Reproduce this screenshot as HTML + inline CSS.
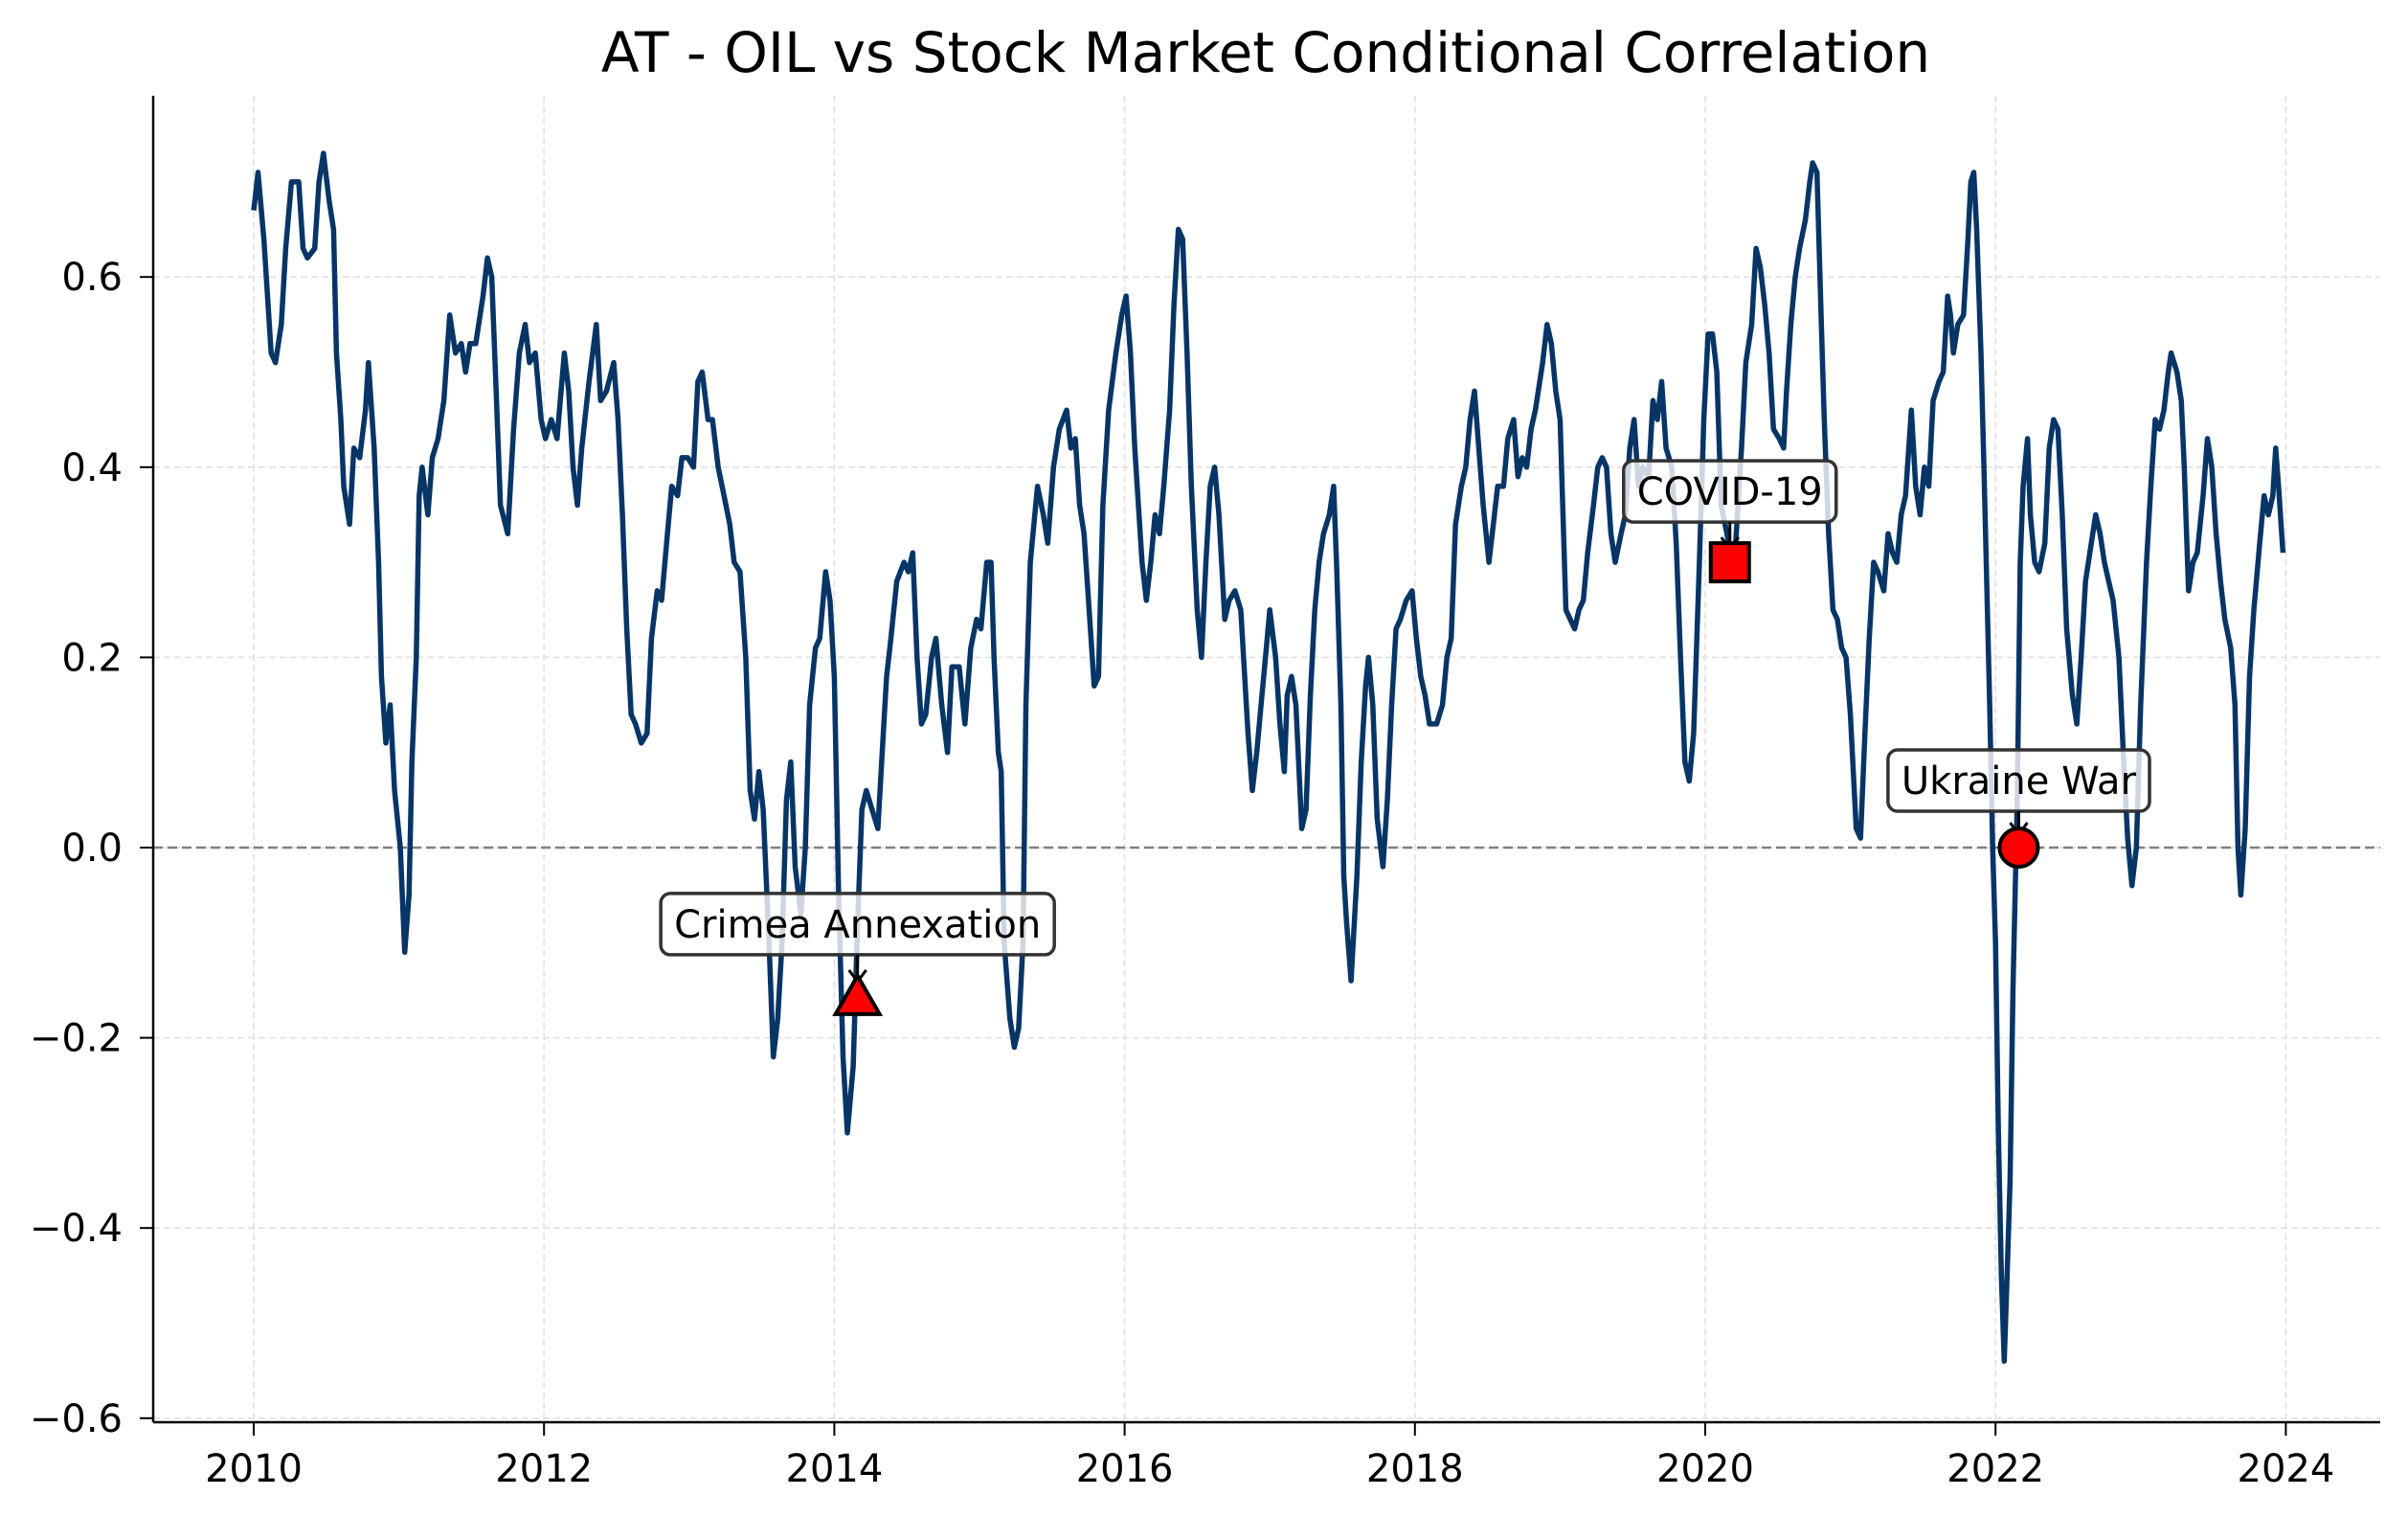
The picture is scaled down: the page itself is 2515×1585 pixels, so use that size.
<!DOCTYPE html>
<html><head><meta charset="utf-8"><style>
html,body{margin:0;padding:0;background:#fff;}
svg{display:block;font-family:"DejaVu Sans","Liberation Sans",sans-serif;}
</style></head><body>
<svg id="chart" width="2515" height="1585" viewBox="0 0 2515 1585" xmlns="http://www.w3.org/2000/svg">
<rect width="2515" height="1585" fill="#fff"/>
<text x="1322" y="75" text-anchor="middle" font-size="58" fill="#000">AT - OIL vs Stock Market Conditional Correlation</text>
<g id="grid"></g>
<g id="zero"></g>
<g id="series"></g>
<g id="axes"></g>
<g id="events"></g>
</svg>
<script>
const xTicks = [2010, 2012, 2014, 2016, 2018, 2020, 2022, 2024];
const yTicks = [-0.6, -0.4, -0.2, 0.0, 0.2, 0.4, 0.6];
const yTickLabels = ["\u22120.6", "\u22120.4", "\u22120.2", "0.0", "0.2", "0.4", "0.6"];
const dates = [2010.00,2010.03,2010.07,2010.12,2010.15,2010.19,2010.22,2010.26,2010.31,2010.34,2010.37,2010.42,2010.45,2010.48,2010.52,2010.55,2010.57,2010.60,2010.62,2010.66,2010.69,2010.73,2010.77,2010.79,2010.83,2010.86,2010.88,2010.91,2010.94,2010.97,
2011.01,2011.04,2011.07,2011.09,2011.12,2011.14,2011.16,2011.20,2011.23,2011.27,2011.31,2011.35,2011.39,2011.43,2011.46,2011.49,2011.53,2011.58,2011.61,2011.64,2011.67,2011.70,2011.75,2011.79,2011.83,2011.87,2011.90,2011.94,2011.98,
2012.01,2012.05,2012.09,2012.14,2012.17,2012.20,2012.23,2012.26,2012.31,2012.36,2012.39,2012.43,2012.48,2012.51,2012.54,2012.57,2012.60,2012.63,2012.67,2012.71,2012.74,2012.78,2012.81,2012.85,2012.88,2012.92,2012.95,2012.99,
2013.03,2013.06,2013.09,2013.13,2013.16,2013.20,2013.24,2013.28,2013.31,2013.35,2013.39,2013.42,2013.45,2013.48,2013.51,2013.55,2013.58,2013.61,2013.64,2013.67,2013.70,2013.73,2013.77,2013.80,2013.83,2013.87,2013.90,2013.94,2013.97,
2014.00,2014.03,2014.06,2014.09,2014.13,2014.16,2014.19,2014.22,2014.26,2014.30,2014.33,2014.36,2014.39,2014.43,2014.48,2014.51,2014.54,2014.57,2014.60,2014.63,2014.67,2014.70,2014.74,2014.78,2014.81,2014.86,2014.90,2014.94,2014.98,
2015.01,2015.05,2015.08,2015.10,2015.13,2015.15,2015.17,2015.21,2015.24,2015.27,2015.30,2015.32,2015.35,2015.40,2015.44,2015.47,2015.51,2015.55,2015.60,2015.63,2015.66,2015.69,2015.72,2015.76,2015.79,2015.82,2015.85,2015.89,2015.94,2015.98,
2016.01,2016.04,2016.07,2016.12,2016.15,2016.18,2016.21,2016.24,2016.27,2016.31,2016.34,2016.37,2016.40,2016.43,2016.46,2016.50,2016.53,2016.56,2016.59,2016.62,2016.65,2016.69,2016.72,2016.76,2016.80,2016.85,2016.88,2016.91,2016.94,2016.97,
2017.00,2017.04,2017.07,2017.10,2017.12,2017.15,2017.18,2017.22,2017.25,2017.28,2017.31,2017.34,2017.37,2017.41,2017.44,2017.46,2017.49,2017.51,2017.53,2017.56,2017.60,2017.63,2017.66,2017.68,2017.71,2017.74,2017.78,2017.81,2017.84,2017.87,2017.90,2017.94,2017.98,
2018.01,2018.04,2018.07,2018.10,2018.15,2018.19,2018.22,2018.25,2018.28,2018.32,2018.35,2018.38,2018.41,2018.44,2018.47,2018.51,2018.54,2018.57,2018.61,2018.64,2018.68,2018.71,2018.74,2018.77,2018.80,2018.83,2018.88,2018.91,2018.94,2018.97,
2019.00,2019.04,2019.07,2019.10,2019.13,2019.16,2019.19,2019.23,2019.26,2019.29,2019.32,2019.35,2019.38,2019.42,2019.45,2019.48,2019.51,2019.54,2019.57,2019.61,2019.64,2019.67,2019.70,2019.73,2019.77,2019.80,2019.83,2019.86,2019.89,2019.92,2019.96,2019.99,
2020.02,2020.05,2020.08,2020.11,2020.15,2020.18,2020.21,2020.25,2020.28,2020.32,2020.35,2020.38,2020.41,2020.44,2020.47,2020.51,2020.54,2020.56,2020.59,2020.62,2020.65,2020.69,2020.72,2020.74,2020.77,2020.80,2020.82,2020.85,2020.88,2020.91,2020.94,2020.97,
2021.00,2021.04,2021.07,2021.10,2021.13,2021.16,2021.19,2021.23,2021.26,2021.29,2021.32,2021.35,2021.38,2021.42,2021.45,2021.48,2021.51,2021.54,2021.57,2021.61,2021.64,2021.67,2021.69,2021.71,2021.74,2021.78,2021.81,2021.83,2021.85,2021.87,2021.90,2021.92,2021.96,2021.98,
2022.00,2022.02,2022.04,2022.06,2022.08,2022.10,2022.12,2022.15,2022.17,2022.19,2022.22,2022.24,2022.27,2022.30,2022.34,2022.37,2022.40,2022.43,2022.46,2022.49,2022.53,2022.56,2022.59,2022.62,2022.65,2022.69,2022.72,2022.75,2022.78,2022.81,2022.85,2022.88,2022.91,2022.94,2022.97,
2023.00,2023.04,2023.07,2023.10,2023.13,2023.16,2023.19,2023.21,2023.25,2023.28,2023.30,2023.33,2023.36,2023.39,2023.43,2023.46,2023.49,2023.52,2023.55,2023.58,2023.62,2023.65,2023.67,2023.69,2023.72,2023.75,2023.78,2023.82,2023.85,2023.88,2023.91,2023.93,2023.95,2023.98];
const correlation = [0.67,0.71,0.64,0.52,0.51,0.55,0.63,0.70,0.70,0.63,0.62,0.63,0.70,0.73,0.68,0.65,0.52,0.45,0.38,0.34,0.42,0.41,0.46,0.51,0.42,0.30,0.18,0.11,0.15,0.06,
0.00,-0.11,-0.05,0.09,0.20,0.37,0.40,0.35,0.41,0.43,0.47,0.56,0.52,0.53,0.50,0.53,0.53,0.58,0.62,0.60,0.48,0.36,0.33,0.44,0.52,0.55,0.51,0.52,0.45,
0.43,0.45,0.43,0.52,0.48,0.40,0.36,0.42,0.49,0.55,0.47,0.48,0.51,0.45,0.35,0.23,0.14,0.13,0.11,0.12,0.22,0.27,0.26,0.33,0.38,0.37,0.41,0.41,
0.40,0.49,0.50,0.45,0.45,0.40,0.37,0.34,0.30,0.29,0.20,0.06,0.03,0.08,0.04,-0.10,-0.22,-0.18,-0.10,0.05,0.09,-0.02,-0.07,0.00,0.15,0.21,0.22,0.29,0.26,
0.18,-0.05,-0.22,-0.30,-0.23,-0.08,0.04,0.06,0.04,0.02,0.10,0.18,0.22,0.28,0.30,0.29,0.31,0.20,0.13,0.14,0.20,0.22,0.15,0.10,0.19,0.19,0.13,0.21,0.24,
0.23,0.30,0.30,0.20,0.10,0.08,-0.10,-0.18,-0.21,-0.19,-0.10,0.15,0.30,0.38,0.35,0.32,0.40,0.44,0.46,0.42,0.43,0.36,0.33,0.24,0.17,0.18,0.36,0.46,0.52,0.56,
0.58,0.52,0.42,0.30,0.26,0.30,0.35,0.33,0.38,0.46,0.57,0.65,0.64,0.52,0.38,0.25,0.20,0.30,0.38,0.40,0.35,0.24,0.26,0.27,0.25,0.12,0.06,0.10,0.15,0.20,
0.25,0.20,0.13,0.08,0.16,0.18,0.15,0.02,0.04,0.16,0.25,0.30,0.33,0.35,0.38,0.30,0.15,-0.03,-0.08,-0.14,-0.03,0.09,0.17,0.20,0.15,0.03,-0.02,0.05,0.15,0.23,0.24,0.26,0.27,
0.22,0.18,0.16,0.13,0.13,0.15,0.20,0.22,0.34,0.38,0.40,0.45,0.48,0.42,0.36,0.30,0.34,0.38,0.38,0.43,0.45,0.39,0.41,0.40,0.44,0.46,0.51,0.55,0.53,0.48,
0.45,0.25,0.24,0.23,0.25,0.26,0.31,0.36,0.40,0.41,0.40,0.33,0.30,0.33,0.35,0.42,0.45,0.38,0.40,0.39,0.47,0.45,0.49,0.42,0.40,0.32,0.20,0.09,0.07,0.12,0.30,0.45,
0.54,0.54,0.50,0.36,0.33,0.30,0.32,0.42,0.51,0.55,0.63,0.61,0.57,0.52,0.44,0.43,0.42,0.48,0.55,0.60,0.63,0.66,0.70,0.72,0.71,0.55,0.45,0.33,0.25,0.24,0.21,0.20,
0.14,0.02,0.01,0.12,0.22,0.30,0.29,0.27,0.33,0.31,0.30,0.35,0.37,0.46,0.38,0.35,0.40,0.38,0.47,0.49,0.50,0.58,0.56,0.52,0.55,0.56,0.64,0.70,0.71,0.65,0.52,0.40,0.15,0.00,
-0.10,-0.30,-0.45,-0.54,-0.45,-0.35,-0.15,0.05,0.30,0.38,0.43,0.35,0.30,0.29,0.32,0.42,0.45,0.44,0.35,0.23,0.16,0.13,0.20,0.28,0.31,0.35,0.33,0.30,0.28,0.26,0.20,0.10,0.01,-0.04,0.00,
0.15,0.30,0.38,0.45,0.44,0.46,0.50,0.52,0.50,0.47,0.40,0.27,0.30,0.31,0.37,0.43,0.40,0.33,0.28,0.24,0.21,0.15,0.00,-0.05,0.02,0.18,0.25,0.32,0.37,0.35,0.37,0.42,0.38,0.31];
const eventNames = ["Crimea Annexation", "COVID-19", "Ukraine War"];
const eventDates = [2014.16, 2020.17, 2022.16];
const eventValues = [-0.155, 0.30, 0.0];
const eventShapes = ["triangle", "square", "circle"];

const NS = "http://www.w3.org/2000/svg";
const L = 160, R = 2486, T = 100, B = 1485;
function xs(yr){ return 265 + (yr - 2010) * 151.6; }
function ys(v){ return 885 - v * 993; }
function mk(tag, attrs, parent){ const e = document.createElementNS(NS, tag); for (const k in attrs) e.setAttribute(k, attrs[k]); parent.appendChild(e); return e; }

const grid = document.getElementById('grid'), axes = document.getElementById('axes');
xTicks.forEach(t => {
  const x = xs(t);
  const g = mk('line', {x1:x, x2:x, y1:T, y2:B, stroke:'#e3e3e3', 'stroke-width':1.8, 'stroke-dasharray':'7,4'}, grid);
  
  
  const tk = mk('line', {x1:x, x2:x, y1:B, y2:B+14, stroke:'#000', 'stroke-width':2}, axes);
  
  
  const lb = mk('text', {x:x, y:1547, 'text-anchor':'middle', 'font-size':40, fill:'#000'}, axes);
  lb.textContent = t;
  
  
});
yTicks.forEach((t, i) => {
  const y = ys(t);
  const g = mk('line', {x1:L, x2:R, y1:y, y2:y, stroke:'#e3e3e3', 'stroke-width':1.8, 'stroke-dasharray':'7,4'}, grid);
  
  
  const tk = mk('line', {x1:L-14, x2:L, y1:y, y2:y, stroke:'#000', 'stroke-width':2}, axes);
  
  
  const lb = mk('text', {x:128, y:y+14, 'text-anchor':'end', 'font-size':40, fill:'#000'}, axes);
  lb.textContent = yTickLabels[i];
  
  
});
const yAxis = mk('line', {x1:L, x2:L, y1:T, y2:B, stroke:'#000', 'stroke-width':2.5}, axes);


const xAxis = mk('line', {x1:L, x2:R, y1:B, y2:B, stroke:'#000', 'stroke-width':2.5}, axes);



const zl = mk('line', {x1:L, x2:R, y1:ys(0), y2:ys(0), stroke:'#808080', 'stroke-width':2.4, 'stroke-dasharray':'10,5'}, document.getElementById('zero'));



let d = '';
dates.forEach((t, i) => { d += (i ? 'L' : 'M') + xs(t).toFixed(1) + ',' + ys(correlation[i]).toFixed(1); });
const line = mk('path', {d:d, fill:'none', stroke:'#063566', 'stroke-width':5.5, 'stroke-linejoin':'round'}, document.getElementById('series'));



const ev = document.getElementById('events');
const boxOffsets = [[0, -74], [0, -74], [0, -70]];
eventNames.forEach((name, i) => {
  const mx = xs(eventDates[i]), my = ys(eventValues[i]);
  const bx = mx + boxOffsets[i][0], by = my + boxOffsets[i][1];
  const h = 64;
  const box = mk('rect', {x:0, y:by - h/2, width:10, height:h, rx:10, fill:'#fff', 'fill-opacity':0.8, stroke:'#333', 'stroke-width':3.5}, ev);
  
  
  const tx = mk('text', {x:bx, y:by + 14, 'text-anchor':'middle', 'font-size':40, fill:'#000'}, ev);
  tx.textContent = name;
  
  
  let w = name.length * 23 + 28;
  try { w = tx.getComputedTextLength() + 28; } catch (e) {}
  box.setAttribute('x', bx - w/2);
  box.setAttribute('width', w);
  const ar = mk('path', {d:'M'+mx+','+(by+h/2)+'L'+mx+','+(my-14)+'M'+(mx-9)+','+(my-26)+'L'+mx+','+(my-14)+'L'+(mx+9)+','+(my-26), fill:'none', stroke:'#000', 'stroke-width':3}, ev);
  
  
  let m;
  if (eventShapes[i] === 'triangle') {
    m = mk('path', {d:'M'+mx+','+(my-20)+'L'+(mx+23)+','+(my+20)+'L'+(mx-23)+','+(my+20)+'Z', fill:'#ff0000', stroke:'#000', 'stroke-width':4}, ev);
  } else if (eventShapes[i] === 'square') {
    m = mk('rect', {x:mx-20, y:my-20, width:40, height:40, fill:'#ff0000', stroke:'#000', 'stroke-width':4}, ev);
  } else {
    m = mk('circle', {cx:mx, cy:my, r:20, fill:'#ff0000', stroke:'#000', 'stroke-width':4}, ev);
  }
  
  
});
</script>
</body></html>
